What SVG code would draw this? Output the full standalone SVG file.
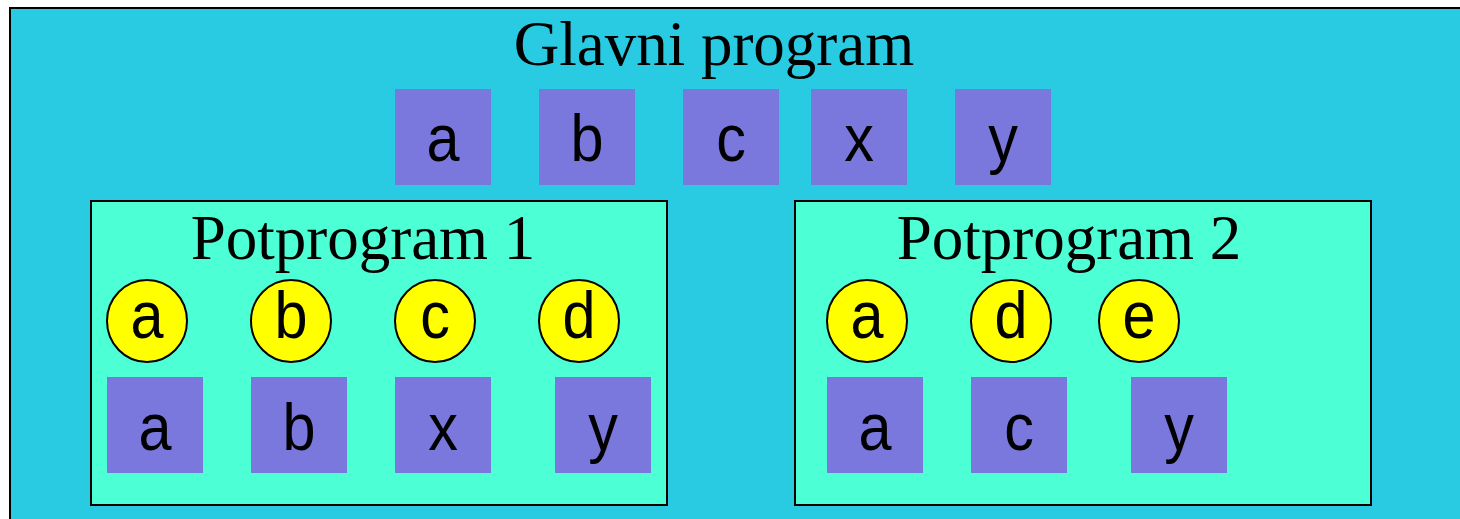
<svg xmlns="http://www.w3.org/2000/svg" width="1460" height="519" viewBox="0 0 1460 519">
  <style>
    .outer { fill: #29cbe2; stroke: #000; stroke-width: 2; }
    .sub { fill: #4dffd4; stroke: #000; stroke-width: 2; }
    .var { fill: #7a78dc; }
    .par { fill: #ffff00; stroke: #000; stroke-width: 2; }
    .title { font-family: "Liberation Serif", serif; font-size: 63px; text-anchor: middle; fill: #000; }
    .lbl { font-family: "Liberation Sans", Arial, sans-serif; font-size: 66px; text-anchor: middle; fill: #000; }
  </style>
  <rect width="1460" height="519" fill="#ffffff"/>

  <!-- main program -->
  <g id="main">
    <rect class="outer" x="10" y="8" width="1470" height="530"/>
    <text class="title" x="714" y="65">Glavni program</text>
  </g>
  <g id="main-vars">
    <g id="m-a"><rect class="var" x="395" y="89" width="96" height="96"/><text class="lbl" transform="translate(443 161) scale(0.9 1)">a</text></g>
    <g id="m-b"><rect class="var" x="539" y="89" width="96" height="96"/><text class="lbl" transform="translate(587 161) scale(0.9 1)">b</text></g>
    <g id="m-c"><rect class="var" x="683" y="89" width="96" height="96"/><text class="lbl" transform="translate(731 161) scale(0.9 1)">c</text></g>
    <g id="m-x"><rect class="var" x="811" y="89" width="96" height="96"/><text class="lbl" transform="translate(859 161) scale(0.9 1)">x</text></g>
    <g id="m-y"><rect class="var" x="955" y="89" width="96" height="96"/><text class="lbl" transform="translate(1003 161) scale(0.9 1)">y</text></g>
  </g>

  <!-- subprogram 1 -->
  <g id="sub1">
    <rect class="sub" x="91" y="201" width="576" height="304"/>
    <text class="title" x="363" y="259">Potprogram 1</text>
    <g id="s1-pa"><ellipse class="par" cx="147" cy="321" rx="40" ry="41"/><text class="lbl" transform="translate(147 338) scale(0.9 1)">a</text></g>
    <g id="s1-pb"><ellipse class="par" cx="291" cy="321" rx="40" ry="41"/><text class="lbl" transform="translate(291 338) scale(0.9 1)">b</text></g>
    <g id="s1-pc"><ellipse class="par" cx="435" cy="321" rx="40" ry="41"/><text class="lbl" transform="translate(435 338) scale(0.9 1)">c</text></g>
    <g id="s1-pd"><ellipse class="par" cx="579" cy="321" rx="40" ry="41"/><text class="lbl" transform="translate(579 338) scale(0.9 1)">d</text></g>
    <g id="s1-a"><rect class="var" x="107" y="377" width="96" height="96"/><text class="lbl" transform="translate(155 450) scale(0.9 1)">a</text></g>
    <g id="s1-b"><rect class="var" x="251" y="377" width="96" height="96"/><text class="lbl" transform="translate(299 450) scale(0.9 1)">b</text></g>
    <g id="s1-x"><rect class="var" x="395" y="377" width="96" height="96"/><text class="lbl" transform="translate(443 450) scale(0.9 1)">x</text></g>
    <g id="s1-y"><rect class="var" x="555" y="377" width="96" height="96"/><text class="lbl" transform="translate(603 450) scale(0.9 1)">y</text></g>
  </g>

  <!-- subprogram 2 -->
  <g id="sub2">
    <rect class="sub" x="795" y="201" width="576" height="304"/>
    <text class="title" x="1069" y="259">Potprogram 2</text>
    <g id="s2-pa"><ellipse class="par" cx="867" cy="321" rx="40" ry="41"/><text class="lbl" transform="translate(867 338) scale(0.9 1)">a</text></g>
    <g id="s2-pd"><ellipse class="par" cx="1011" cy="321" rx="40" ry="41"/><text class="lbl" transform="translate(1011 338) scale(0.9 1)">d</text></g>
    <g id="s2-pe"><ellipse class="par" cx="1139" cy="321" rx="40" ry="41"/><text class="lbl" transform="translate(1139 338) scale(0.9 1)">e</text></g>
    <g id="s2-a"><rect class="var" x="827" y="377" width="96" height="96"/><text class="lbl" transform="translate(875 450) scale(0.9 1)">a</text></g>
    <g id="s2-c"><rect class="var" x="971" y="377" width="96" height="96"/><text class="lbl" transform="translate(1019 450) scale(0.9 1)">c</text></g>
    <g id="s2-y"><rect class="var" x="1131" y="377" width="96" height="96"/><text class="lbl" transform="translate(1179 450) scale(0.9 1)">y</text></g>
  </g>

  <!-- no connectors in this figure -->
  <g id="connectors"/>
</svg>
